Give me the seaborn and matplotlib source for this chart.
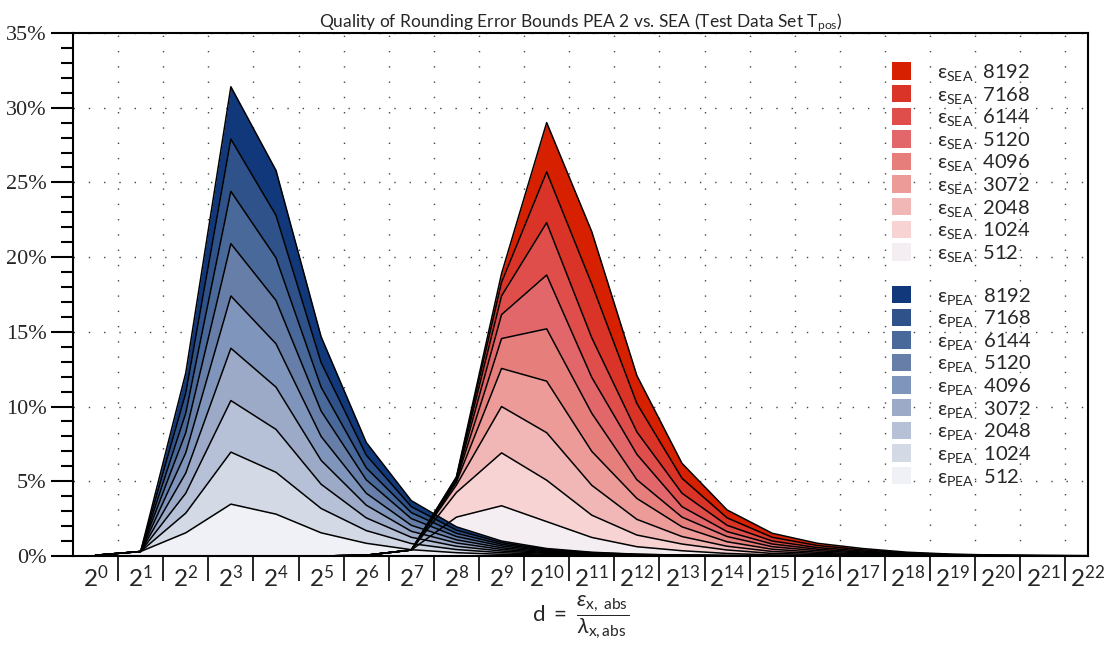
import numpy as np
import pandas as pd
import matplotlib.pyplot as plt
import matplotlib.ticker as mticker
from matplotlib.patches import Patch
import seaborn as sns

# ── Data (percent of test cases) ─────────────────────────────────────────────
# x positions are the exponents of d = 2^k, k = 0..22
exponents = list(range(23))
eps_levels = [512, 1024, 2048, 3072, 4096, 5120, 6144, 7168, 8192]

# PEA: cumulative layer boundaries, one list per epsilon level
pea_512  = [0.05, 0.3, 1.55, 3.47, 2.80, 1.55, 0.85, 0.42, 0.22, 0.11, 0.06, 0.03, 0.01, 0.01, 0, 0, 0, 0, 0, 0, 0, 0, 0]
pea_1024 = [0.05, 0.3, 2.87, 6.95, 5.60, 3.18, 1.70, 0.83, 0.43, 0.22, 0.11, 0.06, 0.03, 0.01, 0.01, 0, 0, 0, 0, 0, 0, 0, 0]
pea_2048 = [0.05, 0.3, 4.20, 10.4, 8.47, 4.80, 2.55, 1.25, 0.65, 0.33, 0.17, 0.08, 0.04, 0.02, 0.01, 0, 0, 0, 0, 0, 0, 0, 0]
pea_3072 = [0.05, 0.3, 5.55, 13.9, 11.3, 6.40, 3.40, 1.65, 0.87, 0.44, 0.22, 0.11, 0.05, 0.03, 0.01, 0.01, 0, 0, 0, 0, 0, 0, 0]
pea_4096 = [0.05, 0.3, 6.90, 17.4, 14.2, 8.00, 4.20, 2.05, 1.08, 0.55, 0.28, 0.14, 0.07, 0.03, 0.02, 0.01, 0, 0, 0, 0, 0, 0, 0]
pea_5120 = [0.05, 0.3, 8.25, 20.9, 17.1, 9.70, 5.10, 2.50, 1.30, 0.67, 0.33, 0.17, 0.08, 0.04, 0.02, 0.01, 0.01, 0, 0, 0, 0, 0, 0]
pea_6144 = [0.05, 0.3, 9.55, 24.4, 19.95, 11.3, 5.90, 2.90, 1.52, 0.78, 0.39, 0.19, 0.09, 0.05, 0.02, 0.01, 0.01, 0, 0, 0, 0, 0, 0]
pea_7168 = [0.05, 0.3, 10.9, 27.9, 22.8, 12.95, 6.75, 3.30, 1.73, 0.89, 0.44, 0.22, 0.11, 0.05, 0.03, 0.01, 0.01, 0, 0, 0, 0, 0, 0]
pea_8192 = [0.05, 0.3, 12.25, 31.4, 25.8, 14.67, 7.60, 3.70, 1.95, 1.00, 0.50, 0.25, 0.12, 0.06, 0.03, 0.02, 0.01, 0.01, 0, 0, 0, 0, 0]

# SEA: cumulative layer boundaries
sea_512  = [0, 0, 0, 0, 0, 0, 0.05, 0.4, 2.60, 3.36, 2.30, 1.24, 0.62, 0.35, 0.17, 0.07, 0.04, 0.02, 0.01, 0.01, 0, 0, 0]
sea_1024 = [0, 0, 0, 0, 0, 0, 0.05, 0.4, 4.25, 6.90, 5.07, 2.73, 1.40, 0.80, 0.40, 0.17, 0.10, 0.05, 0.03, 0.01, 0.01, 0, 0]
sea_2048 = [0, 0, 0, 0, 0, 0, 0.05, 0.4, 4.75, 10.0, 8.25, 4.73, 2.45, 1.30, 0.65, 0.30, 0.17, 0.09, 0.05, 0.02, 0.01, 0.01, 0]
sea_3072 = [0, 0, 0, 0, 0, 0, 0.05, 0.4, 4.95, 12.55, 11.7, 7.00, 3.85, 1.95, 0.95, 0.45, 0.25, 0.14, 0.07, 0.03, 0.02, 0.01, 0.01]
sea_4096 = [0, 0, 0, 0, 0, 0, 0.05, 0.4, 5.05, 14.55, 15.2, 9.55, 5.10, 2.60, 1.30, 0.62, 0.35, 0.20, 0.10, 0.05, 0.02, 0.01, 0.01]
sea_5120 = [0, 0, 0, 0, 0, 0, 0.05, 0.4, 5.15, 16.15, 18.8, 11.95, 6.80, 3.30, 1.63, 0.80, 0.45, 0.26, 0.13, 0.06, 0.03, 0.02, 0.01]
sea_6144 = [0, 0, 0, 0, 0, 0, 0.05, 0.4, 5.20, 17.4, 22.3, 14.6, 8.30, 4.20, 2.05, 1.00, 0.56, 0.33, 0.16, 0.08, 0.04, 0.02, 0.01]
sea_7168 = [0, 0, 0, 0, 0, 0, 0.05, 0.4, 5.25, 18.3, 25.7, 18.2, 10.2, 5.20, 2.55, 1.25, 0.70, 0.41, 0.20, 0.10, 0.05, 0.03, 0.02]
sea_8192 = [0, 0, 0, 0, 0, 0, 0.05, 0.4, 5.30, 18.9, 29.0, 21.7, 12.07, 6.20, 3.08, 1.52, 0.85, 0.50, 0.25, 0.12, 0.06, 0.03, 0.02]

pea_series = [pea_512, pea_1024, pea_2048, pea_3072, pea_4096,
              pea_5120, pea_6144, pea_7168, pea_8192]
sea_series = [sea_512, sea_1024, sea_2048, sea_3072, sea_4096,
              sea_5120, sea_6144, sea_7168, sea_8192]

# colours, lightest (512) -> darkest (8192)
pea_colors = ["#f0f1f6", "#d3d9e5", "#b6c1d7", "#9caac8", "#8095bb",
              "#667ea8", "#48699a", "#2e5289", "#11387a"]
sea_colors = ["#f4eef2", "#f7d3d3", "#f1b6b6", "#ec9b98", "#e67f7c",
              "#e2676a", "#df4e4a", "#da3328", "#d62000"]

tick_labels = [rf"$2^{{{k}}}$" for k in exponents]


def long_form(series, name):
    rows = []
    for eps, vals in zip(eps_levels, series):
        for k, v in zip(exponents, vals):
            rows.append({"series": f"{name}{eps}", "k": k, "pct": v})
    return pd.DataFrame(rows)


# ── Style ────────────────────────────────────────────────────────────────────
sns.set_theme(style="white")
plt.rcParams["font.family"] = ["Lato", "DejaVu Sans"]
plt.rcParams["mathtext.fontset"] = "custom"
plt.rcParams["mathtext.rm"] = "Lato"
plt.rcParams["mathtext.it"] = "Lato:italic"
plt.rcParams["mathtext.bf"] = "Lato:bold"

fig = plt.figure(figsize=(11.11, 6.66), dpi=100)
ax = fig.add_axes([0.0657, 0.1652, 0.9136, 0.7853])

# ── Areas: SEA first, PEA on top ─────────────────────────────────────────────
for series, colors, name in [(sea_series, sea_colors, "SEA"),
                             (pea_series, pea_colors, "PEA")]:
    lower = np.zeros(len(exponents))
    for vals, col in zip(series, colors):
        upper = np.asarray(vals, dtype=float)
        ax.fill_between(exponents, lower, upper, color=col, lw=0, zorder=2)
        lower = upper
    sns.lineplot(data=long_form(series, name), x="k", y="pct", units="series",
                 estimator=None, color="black", lw=1.1, ax=ax, zorder=3,
                 legend=False)

# ── Axes ─────────────────────────────────────────────────────────────────────
ax.set_xlim(-0.5, 22)
ax.set_ylim(0, 35)
ax.set_xticks(exponents)
ax.set_xticklabels(tick_labels, fontsize=17.5)
ax.set_xticks(np.arange(0.5, 22, 1.0), minor=True)
ax.tick_params(axis="x", which="major", length=0, pad=6)
ax.tick_params(axis="x", which="minor", length=18, width=1.2, direction="out",
               color="black", bottom=True)
ax.set_yticks(range(0, 36, 5))
ax.yaxis.set_minor_locator(mticker.MultipleLocator(1))
ax.yaxis.set_major_formatter(mticker.FuncFormatter(lambda v, _: f"{v:.0f}%"))
ax.tick_params(axis="y", which="major", length=16, width=1.5, direction="out",
               color="black", left=True, pad=3)
ax.tick_params(axis="y", which="minor", length=9, width=1.5, direction="out",
               color="black", left=True)
for lab in ax.get_yticklabels():
    lab.set_fontfamily(["Liberation Serif", "DejaVu Serif"])
    lab.set_fontsize(16)

ax.grid(False)
ax.grid(axis="y", which="major", color="#444444", lw=1.0, ls=(0, (1, 10)), zorder=0)
ax.grid(axis="x", which="minor", color="#444444", lw=1.0, ls=(0, (1, 10)), zorder=0)
ax.set_axisbelow(True)
for sp in ax.spines.values():
    sp.set_color("black")
    sp.set_linewidth(1.5)
    sp.set_zorder(5)

ax.set_xlabel(r"$\mathrm{d}\ =\ \dfrac{\varepsilon_{\mathrm{x,\ abs}}}{\lambda_{\mathrm{x,abs}}}$",
              fontsize=16, labelpad=2)
ax.set_ylabel("")
ax.set_title(r"Quality of Rounding Error Bounds PEA 2 vs. SEA (Test Data Set T$_{\mathrm{pos}}$)",
             fontsize=12.5, pad=4)

# ── Legend ───────────────────────────────────────────────────────────────────
handles, labels = [], []
for eps, col in zip(reversed(eps_levels), reversed(sea_colors)):
    handles.append(Patch(facecolor=col, edgecolor="none"))
    labels.append(rf"$\mathregular{{\varepsilon}}_{{\mathrm{{SEA}}}}\ $ {eps}")
handles.append(Patch(facecolor="none", edgecolor="none"))
labels.append("")
for eps, col in zip(reversed(eps_levels), reversed(pea_colors)):
    handles.append(Patch(facecolor=col, edgecolor="none"))
    labels.append(rf"$\mathregular{{\varepsilon}}_{{\mathrm{{PEA}}}}\ $ {eps}")

leg = ax.legend(handles, labels, loc="upper left", bbox_to_anchor=(0.799, 0.960),
                frameon=False, fontsize=14.5, handlelength=0.95, handleheight=0.95,
                handletextpad=1.3, labelspacing=0.08, borderaxespad=0)
leg.set_zorder(6)

fig.savefig("out.png", dpi=100)
